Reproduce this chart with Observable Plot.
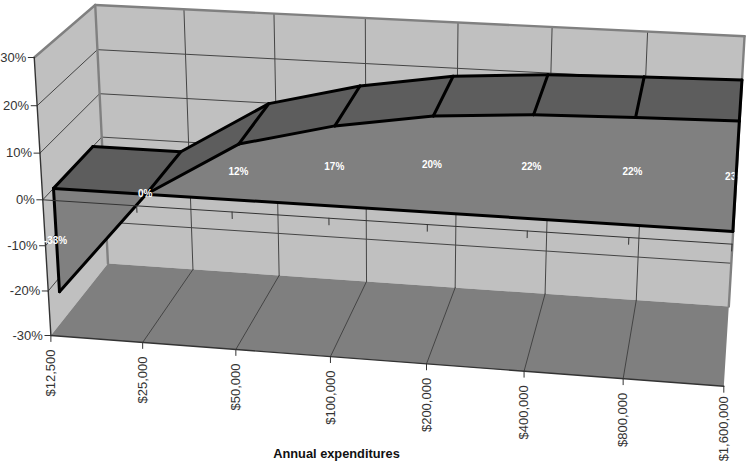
<!DOCTYPE html>
<html><head><meta charset="utf-8">
<script src="https://cdn.jsdelivr.net/npm/d3@7"></script>
<script src="https://cdn.jsdelivr.net/npm/@observablehq/plot@0.6"></script>
<style>html,body{margin:0;background:#fff}svg{display:block}</style>
</head><body><div id="chart"></div>
<script>
const categories = ["$12,500","$25,000","$50,000","$100,000","$200,000","$400,000","$800,000","$1,600,000"];
const values = [-23,0,12,17,20.2,21.6,22.2,22.6];
const valueLabels = ["-33%","0%","12%","17%","20%","22%","22%","23%"];
const valueTicks = [30,20,10,0,-10,-20,-30];

// camera calibration: box corners/edges as they appear on the page
const floorFront = [[50.7,335.3],[143,342],[236,349],[331,356],[426,363],[523,371],[622,378.7],[722.7,385.3]];
const floorBack  = [[107,263],[192,268],[278,275],[366,280],[455,287],[545,294],[636,300],[729,305.3]];
const wallTop    = [[94,4.7],[184.3,9.3],[274.7,14],[365,17.5],[457,21.7],[551,26.7],[647,31],[744.3,34.7]];
const axisFront  = [[33.5,56],[37,105],[39.5,152],[41.5,199],[44.5,245],[48,291],[50.7,335.3]];
const axisBack   = [[94,4.7],[97,49],[100,93],[102,137],[103,180],[104.5,222],[107,263]];
const W = 749, H = 464;
const samples = [];
floorFront.forEach((p,i)=>samples.push([i,-30,0,...p]));
floorBack.forEach((p,i)=>samples.push([i,-30,1,...p]));
wallTop.forEach((p,i)=>samples.push([i,30,1,...p]));
axisFront.forEach((p,i)=>samples.push([0,valueTicks[i],0,...p]));
axisBack.forEach((p,i)=>samples.push([0,valueTicks[i],1,...p]));
samples.push([7,0,0,731,245],[7,-20,1,731,263]);

function fitCamera(){
  const n=11, A=Array.from({length:n},()=>new Array(n+1).fill(0));
  const add=(r,b)=>{for(let i=0;i<n;i++){for(let j=0;j<n;j++)A[i][j]+=r[i]*r[j];A[i][n]+=r[i]*b;}};
  for(const [u,v,w,px,py] of samples){
    const U=u/7,V=(v+30)/60,x=px/W,y=py/H;
    add([U,V,w,1,0,0,0,0,-x*U,-x*V,-x*w],x);
    add([0,0,0,0,U,V,w,1,-y*U,-y*V,-y*w],y);
  }
  for(let c=0;c<n;c++){
    let m=c;for(let r=c+1;r<n;r++)if(Math.abs(A[r][c])>Math.abs(A[m][c]))m=r;
    [A[c],A[m]]=[A[m],A[c]];
    for(let r=0;r<n;r++){if(r===c)continue;const f=A[r][c]/A[c][c];for(let k=c;k<=n;k++)A[r][k]-=f*A[c][k];}
  }
  return A.map((r,i)=>r[n]/r[i]);
}
const P = fitCamera();
function proj(u,v,w){
  const U=u/7,V=(v+30)/60;
  const d=P[8]*U+P[9]*V+P[10]*w+1;
  return {x:W*(P[0]*U+P[1]*V+P[2]*w+P[3])/d, y:H*(P[4]*U+P[5]*V+P[6]*w+P[7])/d};
}
const wF=0.17, wB=0.84;
const poly=(pts)=>pts.map(([u,v,w])=>proj(u,v,w));
const seg=(a,b)=>{const p=proj(...a),q=proj(...b);return {x1:p.x,y1:p.y,x2:q.x,y2:q.y};};
const idx=d3.range(categories.length);
const last=idx.length-1;

const leftWall=poly([[0,30,0],[0,30,1],[0,-30,1],[0,-30,0]]);
const backWall=poly([[0,30,1],[last,30,1],[last,-30,1],[0,-30,1]]);
const floor=poly([[0,-30,0],[0,-30,1],[last,-30,1],[last,-30,0]]);

const grid=[];
valueTicks.filter(v=>v!==30&&v!==-30).forEach(v=>{grid.push(seg([0,v,0],[0,v,1]));grid.push(seg([0,v,1],[last,v,1]));});
idx.slice(1,-1).forEach(i=>{grid.push(seg([i,30,1],[i,-30,1]));grid.push(seg([i,-30,1],[i,-30,0]));});

const wallEdges=[seg([0,30,0],[0,30,1]),seg([0,30,1],[last,30,1]),seg([0,30,1],[0,-30,1]),seg([last,30,1],[last,-30,1])];
const frame=[seg([0,30,0],[0,-30,0]),seg([0,-30,0],[last,-30,0])];
const yTicks=valueTicks.map(v=>{const p=proj(0,v,0);return {x1:p.x-6,x2:p.x,y1:p.y,y2:p.y,label:(v)+"%"};});
const xTicks=idx.map(i=>{const p=proj(i,-30,0);return {x1:p.x,x2:p.x,y1:p.y,y2:p.y+6,label:categories[i],ty:p.y+(i===last?10:14)};});

const val=v=>Math.max(v,0);
const tops=[];
for(let i=0;i<last;i++){
  const a=val(values[i]),b=val(values[i+1]);
  tops.push(...poly([[i,a,wF],[i,a,wB],[i+1,b,wB],[i+1,b,wF]]).map(p=>({...p,z:i})));
}
const wedge=poly([[0,0,wF],[0,values[0],wF],[1,0,wF]]);
const front=poly([...idx.slice(1).map(i=>[i,values[i],wF]),[last,0,wF],[1,0,wF]]);

const edges=[
  seg([0,0,wF],[last,0,wF]),
  seg([0,0,wF],[0,values[0],wF]),
  seg([0,values[0],wF],[1,0,wF]),
  seg([0,0,wF],[0,0,wB]),
  seg([0,0,wB],[1,0,wB]),
];
idx.slice(1).forEach(i=>{
  edges.push(seg([i,values[i],wF],[i,values[i],wB]));
  if(i<last){edges.push(seg([i,values[i],wF],[i+1,values[i+1],wF]));edges.push(seg([i,values[i],wB],[i+1,values[i+1],wB]));}
});
const rightEdge=[seg([last,values[last],wF],[last,0,wF])];
const zeroLine=[seg([0,0,0],[last,0,0])];
const zeroTicks=idx.slice(1).map(i=>seg([i,0,0],[i,-1.4,0]));
const labelPts=idx.map(i=>{const p=proj(i,values[i]/2,wF);return {...p,label:valueLabels[i]};});

const line=(pts,fill)=>Plot.line([...pts,pts[0]],{x:"x",y:"y",fill,stroke:"none",curve:"linear"});
const links=(d,stroke,strokeWidth)=>Plot.link(d,{x1:"x1",y1:"y1",x2:"x2",y2:"y2",stroke,strokeWidth,strokeLinecap:"round"});
const sans="Liberation Sans, Arial, sans-serif";

const chart=Plot.plot({
  width:W,height:H,margin:0,
  x:{domain:[0,W],range:[0,W],axis:null},
  y:{domain:[0,H],range:[0,H],axis:null},
  style:{background:"#fff",fontFamily:sans},
  marks:[
    line(leftWall,"#c0c0c0"),line(backWall,"#c0c0c0"),line(floor,"#7f7f7f"),
    links(grid,"#444",1),
    links(wallEdges,"#808080",2.4),
    links(frame,"#333",1.4),
    links(yTicks,"#333",1),
    links(xTicks,"#333",1),
    Plot.line(tops,{x:"x",y:"y",z:"z",fill:"#5d5d5d",stroke:"none"}),
    line(wedge,"#808080"),line(front,"#808080"),
    links(edges,"#000",3),
    links(zeroLine,"#333",1),
    links(zeroTicks,"#333",1),
    Plot.text(labelPts,{x:"x",y:"y",text:"label",dx:-1,fill:"#fff",fontSize:10,fontWeight:"bold"}),
    links(rightEdge,"#000",3),
    Plot.text(yTicks,{x:"x1",y:"y1",text:"label",textAnchor:"end",dx:-2,fill:"#333",fontSize:13}),
    Plot.text(xTicks,{x:"x1",y:"ty",text:"label",rotate:-90,textAnchor:"end",fill:"#333",fontSize:13}),
    Plot.text(["Annual expenditures"],{x:()=>336,y:()=>453,text:d=>d,fontWeight:"bold",fontSize:12.8,fill:"#111"})
  ]
});
document.getElementById("chart").append(chart);
</script></body></html>
